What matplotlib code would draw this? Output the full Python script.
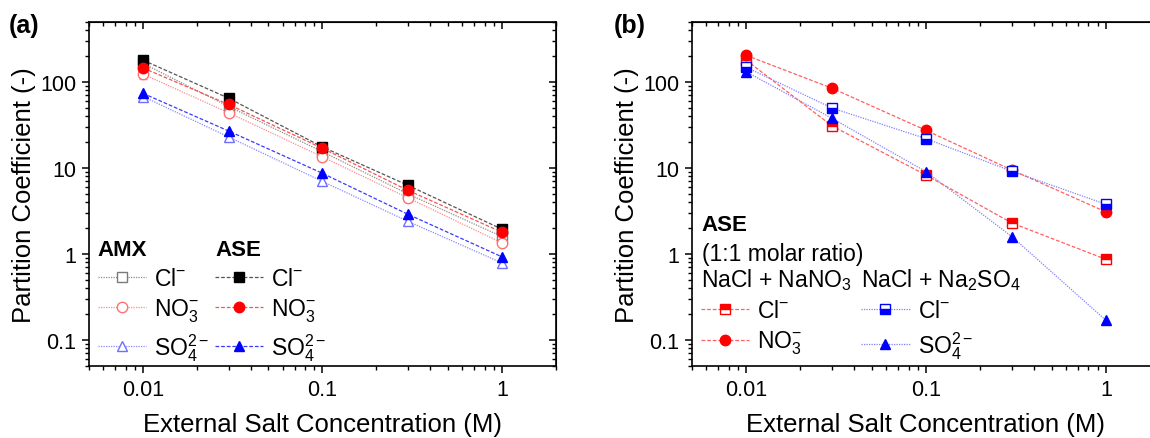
import matplotlib
matplotlib.use("Agg")
import matplotlib.pyplot as plt
from matplotlib.lines import Line2D
from matplotlib.ticker import NullFormatter, LogLocator

plt.rcParams['font.family'] = ['Liberation Sans', 'DejaVu Sans']
plt.rcParams['mathtext.fontset'] = 'custom'
plt.rcParams['mathtext.rm'] = 'Liberation Sans'
plt.rcParams['mathtext.it'] = 'Liberation Sans:italic'
plt.rcParams['mathtext.bf'] = 'Liberation Sans:bold'

# external salt concentration (M)
conc = [0.01, 0.03, 0.1, 0.3, 1.0]

# (a) single salt partition coefficients
amx_cl = [165, 52, 15.5, 5.0, 1.6]
amx_no3 = [124, 44, 13.5, 4.5, 1.35]
amx_so4 = [68, 23, 7.0, 2.4, 0.79]
amx_no3_err = [14, 4, 1.0, 0.3, 0.1]
ase_cl = [180, 65, 17.6, 6.3, 1.95]
ase_no3 = [146, 55, 17.0, 5.5, 1.8]
ase_so4 = [74, 27, 8.7, 2.9, 0.93]

# (b) mixed salts, ASE, 1:1 molar ratio
mix_no3_cl = [180, 31, 8.3, 2.3, 0.87]
mix_no3_no3 = [205, 85, 27.5, 9.5, 3.1]
mix_no3_no3_err = [18, 5, 1.5, 0.4, 0.15]
mix_so4_cl = [149, 50, 22, 9.2, 3.8]
mix_so4_so4 = [132, 38, 9.1, 1.6, 0.17]

ion_cl = 'Cl$^{\\mathregular{-}}$'
ion_no3 = 'NO$_3^{\\mathregular{-}}$'
ion_so4 = 'SO$_4^{\\mathregular{2-}}$'

fig = plt.figure(figsize=(11.5, 4.39), dpi=100)
ax1 = fig.add_axes([0.0774, 0.164, 0.406, 0.7836])
ax2 = fig.add_axes([0.6017, 0.164, 0.407, 0.7836])

TICK_FS = 15.5
LABEL_FS = 18.5
LEG_FS = 16.5


def style_axes(ax):
    ax.set_xscale('log')
    ax.set_yscale('log')
    ax.set_xlim(0.005, 2)
    ax.set_ylim(0.05, 500)
    ax.set_xticks([0.01, 0.1, 1], labels=['0.01', '0.1', '1'])
    ax.set_yticks([0.1, 1, 10, 100], labels=['0.1', '1', '10', '100'])
    ax.xaxis.set_minor_locator(LogLocator(base=10, subs=range(2, 10)))
    ax.yaxis.set_minor_locator(LogLocator(base=10, subs=range(2, 10)))
    ax.xaxis.set_minor_formatter(NullFormatter())
    ax.yaxis.set_minor_formatter(NullFormatter())
    ax.tick_params(which='major', direction='out', length=5, width=1.1,
                   labelsize=TICK_FS, pad=4)
    ax.tick_params(which='minor', direction='out', length=3, width=1.0)
    for s in ax.spines.values():
        s.set_linewidth(1.2)
    # inward mirror ticks on top and right
    top = ax.secondary_xaxis('top')
    top.set_xticks([0.01, 0.1, 1])
    top.xaxis.set_minor_locator(LogLocator(base=10, subs=range(2, 10)))
    top.tick_params(which='major', direction='in', length=5, width=1.1, labeltop=False)
    top.tick_params(which='minor', direction='in', length=3, width=1.0, labeltop=False)
    top.xaxis.set_minor_formatter(NullFormatter())
    right = ax.secondary_yaxis('right')
    right.set_yticks([0.1, 1, 10, 100])
    right.yaxis.set_minor_locator(LogLocator(base=10, subs=range(2, 10)))
    right.tick_params(which='major', direction='in', length=5, width=1.1, labelright=False)
    right.tick_params(which='minor', direction='in', length=3, width=1.0, labelright=False)
    right.yaxis.set_minor_formatter(NullFormatter())
    ax.set_xlabel('External Salt Concentration (M)', fontsize=LABEL_FS, labelpad=9)
    ax.set_ylabel('Partition Coefficient (-)', fontsize=LABEL_FS, labelpad=3)


style_axes(ax1)
style_axes(ax2)

# ---- (a) ----
dot = (0, (1, 1))
dash = (0, (3, 1.5))
h_amx_cl, = ax1.plot(conc, amx_cl, ls=dot, lw=0.9, color='#8c8c8c', marker='s', ms=6.5,
                     mfc='white', mec='#7a7a7a', mew=1.0)
ax1.errorbar(conc, amx_no3, yerr=amx_no3_err, ls='none', ecolor='#ff8a8a',
             capsize=3, elinewidth=0.9)
h_amx_no3, = ax1.plot(conc, amx_no3, ls=dot, lw=0.9, color='#ff8a8a', marker='o', ms=7.5,
                      mfc='white', mec='#ff7070', mew=1.0)
h_amx_so4, = ax1.plot(conc, amx_so4, ls=dot, lw=0.9, color='#8a8aff', marker='^', ms=7.5,
                      mfc='white', mec='#7070ff', mew=1.0)
h_ase_cl, = ax1.plot(conc, ase_cl, ls=dash, lw=0.9, color='#555555', marker='s', ms=6.5,
                     mfc='black', mec='black')
h_ase_no3, = ax1.plot(conc, ase_no3, ls=dash, lw=0.9, color='#ff5050', marker='o', ms=7.5,
                      mfc='red', mec='red')
h_ase_so4, = ax1.plot(conc, ase_so4, ls=dash, lw=0.9, color='#3a3aff', marker='^', ms=7.5,
                      mfc='blue', mec='blue')

leg_kw = dict(frameon=False, fontsize=LEG_FS, handlelength=2.1, handletextpad=0.35,
              labelspacing=0.3, borderpad=0, borderaxespad=0, alignment='left',
              loc='upper left')
leg_amx = ax1.legend([h_amx_cl, h_amx_no3, h_amx_so4], [ion_cl, ion_no3, ion_so4],
                     title='AMX', title_fontproperties={'weight': 'bold', 'size': 16},
                     bbox_to_anchor=(0.019, 0.37), **leg_kw)
ax1.add_artist(leg_amx)
ax1.legend([h_ase_cl, h_ase_no3, h_ase_so4], [ion_cl, ion_no3, ion_so4],
           title='ASE', title_fontproperties={'weight': 'bold', 'size': 16},
           bbox_to_anchor=(0.27, 0.37), **leg_kw)

fig.text(0.008, 0.94, '(a)', fontsize=18, fontweight='bold', va='center')

# ---- (b) ----
h_m_cl1, = ax2.plot(conc, mix_no3_cl, ls=dash, lw=0.9, color='#ff6060', marker='s', ms=6.5,
                    mfc='red', mec='red', fillstyle='top', markerfacecoloralt='white', mew=1.0)
ax2.errorbar(conc, mix_no3_no3, yerr=mix_no3_no3_err, ls='none', ecolor='#ff9090',
             capsize=3, elinewidth=0.9)
h_m_no3, = ax2.plot(conc, mix_no3_no3, ls=dash, lw=0.9, color='#ff6060', marker='o', ms=7.5,
                    mfc='red', mec='red')
h_m_cl2, = ax2.plot(conc, mix_so4_cl, ls=dot, lw=0.9, color='#8080ff', marker='s', ms=6.5,
                    mfc='blue', mec='blue', fillstyle='bottom', markerfacecoloralt='white', mew=1.0)
h_m_so4, = ax2.plot(conc, mix_so4_so4, ls=dot, lw=0.9, color='#8080ff', marker='^', ms=7.5,
                    mfc='blue', mec='blue')

ax2.text(0.021, 0.41, 'ASE', transform=ax2.transAxes, fontsize=16, fontweight='bold',
         va='center', ha='left')
ax2.text(0.021, 0.327, '(1:1 molar ratio)', transform=ax2.transAxes, fontsize=LEG_FS,
         va='center', ha='left')
leg_b1 = ax2.legend([h_m_cl1, h_m_no3], [ion_cl, ion_no3], title='NaCl + NaNO$_3$',
                    title_fontproperties={'size': LEG_FS},
                    bbox_to_anchor=(0.019, 0.29), **leg_kw)
ax2.add_artist(leg_b1)
ax2.legend([h_m_cl2, h_m_so4], [ion_cl, ion_so4], title='NaCl + Na$_2$SO$_4$',
           title_fontproperties={'size': LEG_FS},
           bbox_to_anchor=(0.362, 0.29), **leg_kw)

fig.text(0.534, 0.94, '(b)', fontsize=18, fontweight='bold', va='center')

fig.savefig('out.png', dpi=100)
